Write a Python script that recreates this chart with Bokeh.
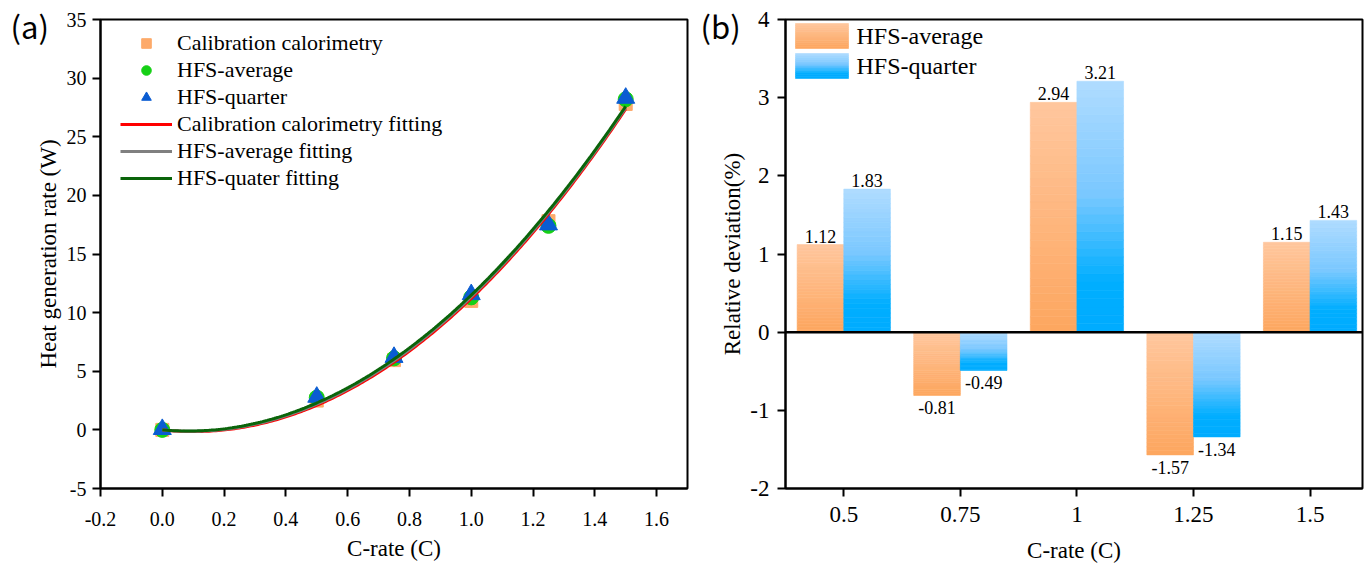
import numpy as np
from bokeh.plotting import figure
from bokeh.models import (ColumnDataSource, Range1d, FixedTicker, NumeralTickFormatter,
                          Legend, LegendItem, Span, BoxAnnotation, Label)
from bokeh.layouts import row
from bokeh.embed import file_html
from bokeh.resources import INLINE
from bokeh.core.properties import value

# ---------------- data: panel (a) ----------------
c_rate = [0.0, 0.5, 0.75, 1.0, 1.25, 1.5]
calib = [0.0, 2.5, 5.95, 11.0, 17.8, 27.8]
hfs_avg = [0.0, 2.75, 6.1, 11.3, 17.4, 28.2]
hfs_quarter = [0.05, 2.8, 6.2, 11.55, 17.5, 28.3]
x_ticks_a = [-0.2, 0.0, 0.2, 0.4, 0.6, 0.8, 1.0, 1.2, 1.4, 1.6]
y_ticks_a = [-5, 0, 5, 10, 15, 20, 25, 30, 35]

# ---------------- data: panel (b) ----------------
b_cats = ["0.5", "0.75", "1", "1.25", "1.5"]
dev_avg = [1.12, -0.81, 2.94, -1.57, 1.15]
dev_quarter = [1.83, -0.49, 3.21, -1.34, 1.43]
y_ticks_b = [-2, -1, 0, 1, 2, 3, 4]

SERIF = "Liberation Serif"
SANS = "Noto Sans CJK SC"


def style_axes(p, tick_size, label_size):
    p.grid.visible = False
    p.outline_line_color = "black"
    p.outline_line_width = 2
    for ax in (p.xaxis[0], p.yaxis[0]):
        ax.axis_line_width = 2
        ax.axis_line_color = "black"
        ax.major_tick_line_width = 2
        ax.major_tick_line_color = "black"
        ax.major_tick_out = 8
        ax.major_tick_in = 0
        ax.minor_tick_out = 0
        ax.minor_tick_in = 0
        ax.major_label_text_font = SERIF
        ax.major_label_text_font_size = tick_size
        ax.major_label_text_color = "black"
        ax.axis_label_text_font = SERIF
        ax.axis_label_text_font_size = label_size
        ax.axis_label_text_font_style = "normal"
        ax.axis_label_text_color = "black"


def panel_tag(p, text, offset):
    p.title.text = text
    p.title.align = "left"
    p.title.offset = offset
    p.title.vertical_align = "bottom"
    p.title.standoff = -56
    p.title.text_font = SANS
    p.title.text_font_size = "31px"
    p.title.text_font_style = "normal"
    p.title.text_color = "black"


# ================= panel (a) =================
pa = figure(width=690, height=566, x_range=Range1d(-0.2, 1.7), y_range=Range1d(-5, 35),
            output_backend="svg", toolbar_location=None, title="(a)",
            min_border_left=100, min_border_right=3, min_border_top=18, min_border_bottom=78)
style_axes(pa, "20px", "23px")
pa.xaxis[0].major_label_standoff = 15
pa.xaxis[0].axis_label_standoff = 7
pa.yaxis[0].major_label_standoff = 6
pa.yaxis[0].axis_label_standoff = 3
pa.xaxis[0].ticker = FixedTicker(ticks=x_ticks_a)
pa.xaxis[0].formatter = NumeralTickFormatter(format="0.0")
pa.yaxis[0].ticker = FixedTicker(ticks=y_ticks_a)
pa.yaxis[0].formatter = NumeralTickFormatter(format="0")
pa.xaxis[0].axis_label = "C-rate (C)"
pa.yaxis[0].axis_label = "Heat generation rate (W)"
panel_tag(pa, "(a)", -90)

r_sq = pa.scatter(c_rate, calib, marker="square", size=13, fill_color="#FDAA6B", line_color="#FDAA6B")
r_ci = pa.scatter(c_rate, hfs_avg, marker="circle", size=15, fill_color="#16D016", line_color="#16D016")
r_tr = pa.scatter(c_rate, hfs_quarter, marker="triangle", size=18, fill_color="#0A5CD2", line_color="#0A5CD2")

# quadratic fits through the origin (y = a*x^2 + b*x), least squares on the measured points
xs_fit = np.linspace(c_rate[0], c_rate[-1], 200)
xa = np.asarray(c_rate)
design = np.column_stack([xa ** 2, xa])
fits = []
for ys, col in ((calib, "#FF0000"), (hfs_avg, "#808080"), (hfs_quarter, "#0A640A")):
    coef, *_ = np.linalg.lstsq(design, np.asarray(ys), rcond=None)
    fits.append(pa.line(xs_fit, coef[0] * xs_fit ** 2 + coef[1] * xs_fit, line_width=3, line_color=col))

legend_a = Legend(items=[
    LegendItem(label="Calibration calorimetry", renderers=[r_sq]),
    LegendItem(label="HFS-average", renderers=[r_ci]),
    LegendItem(label="HFS-quarter", renderers=[r_tr]),
    LegendItem(label="Calibration calorimetry fitting", renderers=[fits[0]]),
    LegendItem(label="HFS-average fitting", renderers=[fits[1]]),
    LegendItem(label="HFS-quater fitting", renderers=[fits[2]]),
], location=(20, 297), glyph_width=52, glyph_height=24, label_height=24, spacing=1,
    padding=0, margin=0, label_standoff=5, border_line_alpha=0, background_fill_alpha=0,
    label_text_font=SERIF, label_text_font_size="22px", label_text_color="black")
pa.add_layout(legend_a)

# ================= panel (b) =================
pb = figure(width=674, height=566, x_range=Range1d(0, 4.95), y_range=Range1d(-2, 4),
            output_backend="svg", toolbar_location=None, title="(b)",
            min_border_left=95, min_border_right=2, min_border_top=19, min_border_bottom=78)
style_axes(pb, "23px", "23px")
pb.xaxis[0].major_label_standoff = 10
pb.xaxis[0].axis_label_standoff = 13
pb.yaxis[0].major_label_standoff = 8
pb.yaxis[0].axis_label_standoff = 2
centers = [i + 0.5 for i in range(len(b_cats))]
pb.xaxis[0].ticker = FixedTicker(ticks=centers)
pb.xaxis[0].major_label_overrides = {c: lab for c, lab in zip(centers, b_cats)}
pb.yaxis[0].ticker = FixedTicker(ticks=y_ticks_b)
pb.yaxis[0].formatter = NumeralTickFormatter(format="0")
pb.xaxis[0].axis_label = "C-rate (C)"
pb.yaxis[0].axis_label = "Relative deviation(%)"
panel_tag(pb, "(b)", -85)

ORANGE_STOPS = [(0.0, (255, 199, 158)), (1.0, (253, 166, 95))]
BLUE_STOPS = [(0.0, (176, 220, 255)), (0.45, (122, 200, 255)), (0.8, (0, 174, 255)), (1.0, (0, 172, 255))]


def interp(stops, t):
    for (t0, c0), (t1, c1) in zip(stops[:-1], stops[1:]):
        if t <= t1:
            f = (t - t0) / (t1 - t0) if t1 > t0 else 0
            return "#%02x%02x%02x" % tuple(int(round(a + (b - a) * f)) for a, b in zip(c0, c1))
    return "#%02x%02x%02x" % stops[-1][1]


N = 30


def gradient_source(values, offset, stops):
    xs, bots, tops, cols = [], [], [], []
    for i, v in enumerate(values):
        hi, lo = max(v, 0.0), min(v, 0.0)
        edges = np.linspace(hi, lo, N + 1)
        for k in range(N):
            xs.append(centers[i] + offset)
            tops.append(edges[k])
            bots.append(edges[k + 1])
            cols.append(interp(stops, (k + 0.5) / N))
    return ColumnDataSource(dict(x=xs, top=tops, bottom=bots, color=cols))


for vals, off, stops in ((dev_avg, -0.2, ORANGE_STOPS), (dev_quarter, 0.2, BLUE_STOPS)):
    pb.vbar(x="x", top="top", bottom="bottom", width=0.4, source=gradient_source(vals, off, stops),
            fill_color="color", line_color="color", line_width=0.6)

# value labels
lx, ly, lt, lb, lo = [], [], [], [], []
for vals, off in ((dev_avg, -0.2), (dev_quarter, 0.2)):
    for i, v in enumerate(vals):
        lx.append(centers[i] + off)
        ly.append(v)
        lt.append("%.2f" % v)
        lb.append("bottom" if v >= 0 else "top")
        lo.append(-2 if v >= 0 else 6)
pb.text(x="x", y="y", text="t", text_baseline="b", y_offset="o", text_align="center",
        source=ColumnDataSource(dict(x=lx, y=ly, t=lt, b=lb, o=lo)),
        text_font=value(SERIF), text_font_size="18px", text_color="black")

pb.add_layout(Span(location=0, dimension="width", line_color="black", line_width=2.5))

# legend (b) with gradient patches
for (label, stops, top_px) in (("HFS-average", ORANGE_STOPS, 23), ("HFS-quarter", BLUE_STOPS, 53)):
    M = 12
    h = 25.0
    for k in range(M):
        pb.add_layout(BoxAnnotation(left=105, right=158, top=top_px + h * k / M, bottom=top_px + h * (k + 1) / M,
                                    left_units="canvas", right_units="canvas",
                                    top_units="canvas", bottom_units="canvas",
                                    fill_color=interp(stops, (k + 0.5) / M), fill_alpha=1.0,
                                    line_color=interp(stops, (k + 0.5) / M), line_alpha=1.0, line_width=0.6))
    pb.add_layout(Label(x=166, y=top_px + h / 2, x_units="canvas", y_units="canvas", text=label,
                        text_font=SERIF, text_font_size="24px", text_baseline="middle", text_color="black"))

layout = row(pa, pb)
open("out.html", "w").write(file_html(layout, INLINE))
